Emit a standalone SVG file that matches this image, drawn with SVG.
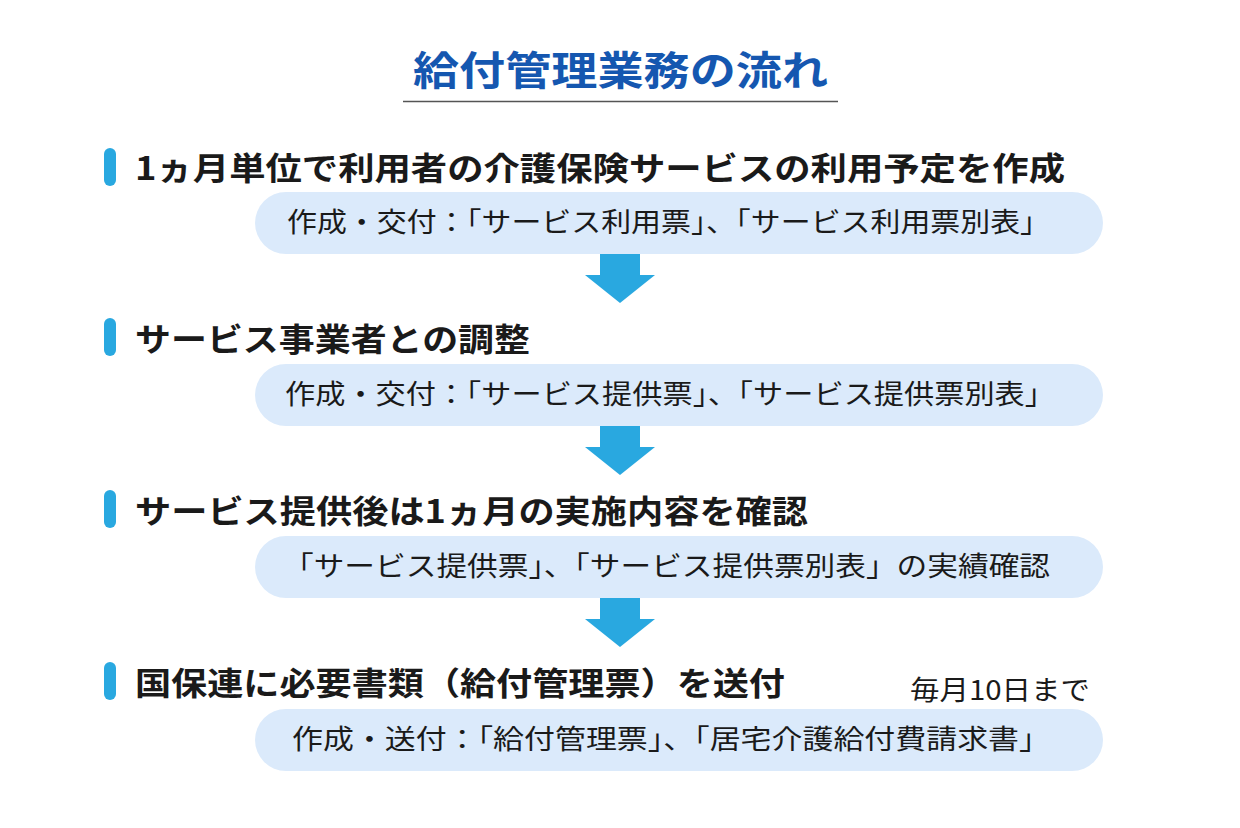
<svg xmlns="http://www.w3.org/2000/svg" width="1240" height="828" viewBox="0 0 1240 828">
<style>
.t{font-family:"Noto Sans CJK JP","Noto Sans CJK SC",sans-serif;}
.h{font-size:32px;font-weight:bold;fill:#1a1a1a}
.p{font-size:27px;fill:#1a1a1a}
.bar{fill:#29a8e0}
.pill{fill:#dbeafb}
.arr{fill:#29a8e0}
</style>
<rect width="1240" height="828" fill="#fff"/>
<g id="title">
<text class="t" x="413" y="85" font-size="40" font-weight="bold" fill="#1557b0" textLength="415" lengthAdjust="spacingAndGlyphs">給付管理業務の流れ</text>
<line x1="403" y1="101.5" x2="838" y2="101.5" stroke="#555" stroke-width="1.5"/>
</g>
<g id="step1">
<rect class="bar" x="104" y="148" width="12" height="38" rx="6"/>
<text class="t h" x="135" y="180" textLength="930" lengthAdjust="spacingAndGlyphs">1ヵ月単位で利用者の介護保険サービスの利用予定を作成</text>
<rect class="pill" x="255" y="192" width="848" height="62" rx="31"/>
<text class="t p" x="287" y="232" textLength="763" lengthAdjust="spacingAndGlyphs">作成・交付：「サービス利用票」、「サービス利用票別表」</text>
</g>
<g id="step2">
<rect class="bar" x="104" y="318" width="12" height="38" rx="6"/>
<text class="t h" x="135" y="351" textLength="395" lengthAdjust="spacingAndGlyphs">サービス事業者との調整</text>
<rect class="pill" x="255" y="364" width="848" height="62" rx="31"/>
<text class="t p" x="285" y="404" textLength="770" lengthAdjust="spacingAndGlyphs">作成・交付：「サービス提供票」、「サービス提供票別表」</text>
</g>
<g id="step3">
<rect class="bar" x="104" y="490" width="12" height="38" rx="6"/>
<text class="t h" x="135" y="523" textLength="673" lengthAdjust="spacingAndGlyphs">サービス提供後は1ヵ月の実施内容を確認</text>
<rect class="pill" x="255" y="536" width="848" height="62" rx="31"/>
<text class="t p" x="283" y="576" textLength="767" lengthAdjust="spacingAndGlyphs">「サービス提供票」、「サービス提供票別表」の実績確認</text>
</g>
<g id="step4">
<rect class="bar" x="104" y="662" width="12" height="38" rx="6"/>
<text class="t h" x="135" y="695" textLength="650" lengthAdjust="spacingAndGlyphs">国保連に必要書類（給付管理票）を送付</text>
<text class="t" x="910" y="700" font-size="27" fill="#1a1a1a" textLength="180" lengthAdjust="spacingAndGlyphs">毎月10日まで</text>
<rect class="pill" x="255" y="709" width="848" height="62" rx="31"/>
<text class="t p" x="292" y="749" textLength="758" lengthAdjust="spacingAndGlyphs">作成・送付：「給付管理票」、「居宅介護給付費請求書」</text>
</g>
<g id="connectors">
<path class="arr" d="M600 254H640V275H655L620 303L585 275H600Z"/>
<path class="arr" d="M600 426H640V447H655L620 475L585 447H600Z"/>
<path class="arr" d="M600 598H640V619H655L620 647L585 619H600Z"/>
</g>
</svg>
